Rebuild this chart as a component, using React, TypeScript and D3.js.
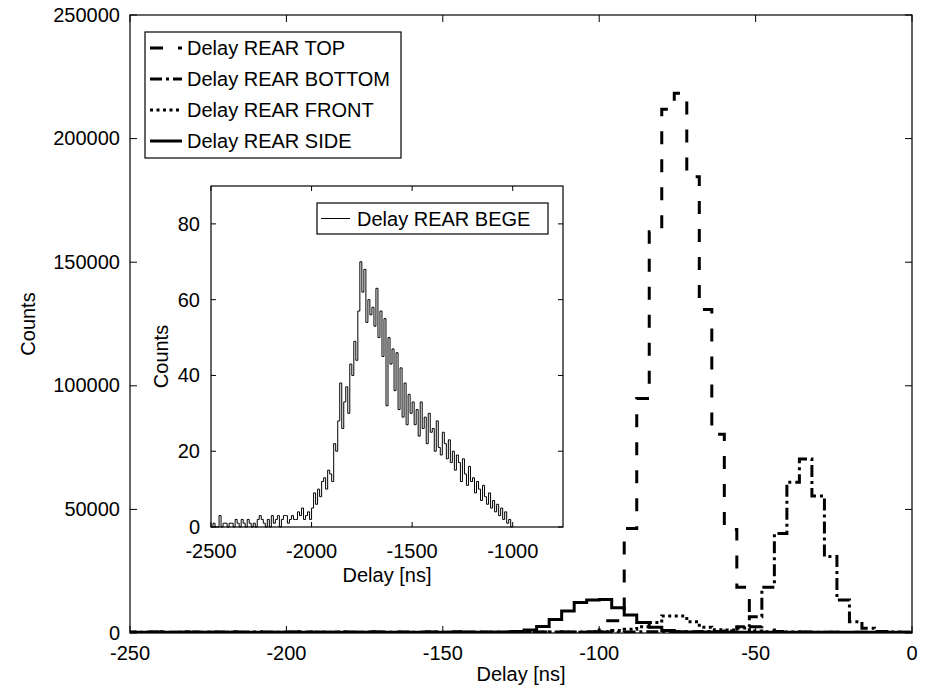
import React from "react";
import * as d3 from "d3";

// ---------- data ----------
const BIN_START = -252; // ns, left edge of first 4 ns bin
const BIN_WIDTH = 4;

// values in thousands of counts, one per 4 ns bin from -252 ns to 0 ns
const topCounts = [
  0.3, 0.4, 0.3, 0.5, 0.3, 0.4, 0.3, 0.3, 0.5, 0.3, 0.4, 0.3, 0.3, 0.4, 0.5, 0.3,
  0.3, 0.4, 0.3, 0.5, 0.3, 0.4, 0.3, 0.3, 0.4, 0.3, 0.5, 0.3, 0.4, 0.3, 0.4, 0.3,
  0.5, 0.4, 0.3, 0.4, 0.4, 0.5, 5.0, 5.0, 42.3, 94.9, 162.3, 211.9, 218.3, 184.6,
  130.9, 80.4, 41.9, 18.5, 2.5, 2.8, 0.6, 0.5, 0.4, 0.4, 0.3, 0.3, 0.3, 0.3, 0.2,
  0.2, 0.2,
];
const bottomCounts = [
  0.3, 0.3, 0.4, 0.3, 0.3, 0.4, 0.3, 0.4, 0.3, 0.3, 0.4, 0.3, 0.3, 0.3, 0.4, 0.3,
  0.3, 0.4, 0.3, 0.3, 0.4, 0.3, 0.3, 0.3, 0.4, 0.3, 0.3, 0.4, 0.3, 0.3, 0.3, 0.4,
  0.3, 0.3, 0.4, 0.3, 0.3, 0.4, 0.4, 0.3, 0.4, 0.5, 0.5, 0.4, 0.5, 0.5, 0.6, 0.6,
  0.8, 2.5, 6.6, 18.5, 40.3, 61.0, 70.4, 55.4, 30.9, 13.3, 4.6, 1.9, 0.6, 0.4,
  0.3,
];
const frontCounts = [
  0.2, 0.2, 0.3, 0.2, 0.2, 0.3, 0.2, 0.2, 0.3, 0.2, 0.2, 0.2, 0.3, 0.2, 0.2, 0.3,
  0.2, 0.2, 0.2, 0.3, 0.2, 0.2, 0.3, 0.2, 0.2, 0.2, 0.3, 0.2, 0.2, 0.3, 0.2, 0.3,
  0.3, 0.3, 0.3, 0.4, 0.4, 0.4, 0.5, 1.0, 1.5, 2.5, 4.2, 6.9, 6.9, 4.6, 2.3, 1.3,
  1.2, 2.0, 0.8, 0.5, 0.4, 0.4, 0.3, 0.3, 0.3, 0.2, 0.2, 0.2, 0.2, 0.2, 0.2,
];
const sideCounts = [
  0.3, 0.3, 0.3, 0.3, 0.3, 0.3, 0.3, 0.3, 0.3, 0.3, 0.3, 0.3, 0.3, 0.3, 0.3, 0.3,
  0.3, 0.3, 0.3, 0.3, 0.3, 0.3, 0.3, 0.3, 0.3, 0.3, 0.3, 0.3, 0.3, 0.3, 0.4, 0.6,
  1.2, 2.6, 5.5, 8.9, 12.3, 13.3, 13.6, 10.2, 7.3, 4.2, 2.3, 1.0, 0.5, 0.4, 0.4,
  0.3, 0.3, 0.3, 0.3, 0.3, 0.3, 0.3, 0.3, 0.3, 0.3, 0.3, 0.3, 0.3, 0.3, 0.3, 0.3,
];

const mainXTicks = [-250, -200, -150, -100, -50, 0];
const mainYTicks = [0, 50000, 100000, 150000, 200000, 250000];

const legendLabels = [
  "Delay REAR TOP",
  "Delay REAR BOTTOM",
  "Delay REAR FRONT",
  "Delay REAR SIDE",
];

// inset: BEGE detector, 10 ns bins starting at -2500 ns
const BEGE_START = -2500;
const BEGE_WIDTH = 10;
const begeCounts = [
  0, 1, 0, 0, 3, 0, 1, 1, 0, 1,
  1, 0, 2, 1, 0, 2, 1, 0, 2, 1,
  0, 1, 0, 2, 3, 2, 1, 0, 2, 0,
  3, 1, 2, 3, 0, 2, 3, 3, 1, 2,
  3, 2, 2, 4, 3, 5, 2, 3, 4, 2,
  5, 9, 6, 10, 8, 12, 13, 10, 15, 14,
  12, 22, 20, 28, 38, 26, 33, 37, 30, 43,
  40, 49, 44, 57, 70, 62, 68, 54, 60, 56,
  58, 53, 63, 50, 57, 45, 55, 32, 50, 43,
  47, 36, 46, 31, 42, 29, 38, 27, 35, 30,
  33, 27, 31, 24, 33, 26, 29, 22, 30, 25,
  26, 20, 28, 21, 19, 25, 22, 18, 23, 17,
  20, 15, 19, 17, 12, 18, 14, 11, 16, 12,
  13, 9, 12, 10, 7, 11, 8, 6, 9, 5,
  7, 4, 6, 3, 5, 2, 4, 1, 2, 0,
];
const insetXTicks = [-2500, -2000, -1500, -1000];
const insetYTicks = [0, 20, 40, 60, 80];

// ---------- layout ----------
const W = 927;
const H = 699;
const M = { left: 130, right: 912, top: 15, bottom: 633 };
const I = { left: 211, right: 563, top: 186, bottom: 527 };
const FONT = "'Liberation Sans', Arial, Helvetica, sans-serif";
const FS = 20;

function stepPath(
  start: number,
  width: number,
  values: number[],
  xs: d3.ScaleLinear<number, number>,
  ys: d3.ScaleLinear<number, number>,
  mult: number
) {
  const pts: [number, number][] = values.map((v, i) => [start + i * width, v * mult]);
  pts.push([start + values.length * width, values[values.length - 1] * mult]);
  return d3
    .line<[number, number]>()
    .x((d) => xs(d[0]))
    .y((d) => ys(d[1]))
    .curve(d3.curveStepAfter)(pts) as string;
}

export default function App() {
  const x = d3.scaleLinear().domain([-250, 0]).range([M.left, M.right]);
  const y = d3.scaleLinear().domain([0, 250000]).range([M.bottom, M.top]);
  const xi = d3.scaleLinear().domain([-2500, -750]).range([I.left, I.right]);
  const yi = d3.scaleLinear().domain([0, 90]).range([I.bottom, I.top]);

  const series = [
    { values: topCounts, dash: "13,15", width: 3 },
    { values: bottomCounts, dash: "12,4,3,4", width: 3 },
    { values: frontCounts, dash: "3,3.5", width: 3 },
    { values: sideCounts, dash: "none", width: 3 },
  ];

  const tick = 7;
  const itick = 5;
  const legX = 145;
  const legY = 32;
  const legW = 256;
  const legH = 126;
  const rowGap = 31;

  return (
    <div style={{ position: "absolute", left: 0, top: 0 }}>
      <svg width={W} height={H} style={{ display: "block", background: "#fff" }} fontFamily={FONT}>
        <defs>
          <clipPath id="mainClip">
            <rect x={M.left} y={M.top} width={M.right - M.left} height={M.bottom - M.top} />
          </clipPath>
        </defs>
        <rect x={0} y={0} width={W} height={H} fill="#fff" />

        {/* main series */}
        <g clipPath="url(#mainClip)">
          {series.map((s, k) => (
            <path
              key={k}
              d={stepPath(BIN_START, BIN_WIDTH, s.values, x, y, 1000)}
              fill="none"
              stroke="#000"
              strokeWidth={s.width}
              strokeDasharray={s.dash}
            />
          ))}
        </g>

        {/* main axes box */}
        <rect
          x={M.left}
          y={M.top}
          width={M.right - M.left}
          height={M.bottom - M.top}
          fill="none"
          stroke="#000"
          strokeWidth={1.2}
        />
        {mainXTicks.map((t) => (
          <g key={"mx" + t}>
            <line x1={x(t)} x2={x(t)} y1={M.bottom} y2={M.bottom - tick} stroke="#000" />
            <line x1={x(t)} x2={x(t)} y1={M.top} y2={M.top + tick} stroke="#000" />
            <text x={x(t)} y={660} textAnchor="middle" fontSize={FS} fill="#000">
              {t}
            </text>
          </g>
        ))}
        {mainYTicks.map((t) => (
          <g key={"my" + t}>
            <line x1={M.left} x2={M.left + tick} y1={y(t)} y2={y(t)} stroke="#000" />
            <line x1={M.right} x2={M.right - tick} y1={y(t)} y2={y(t)} stroke="#000" />
            <text x={120} y={y(t)} dy="0.33em" textAnchor="end" fontSize={FS} fill="#000">
              {t}
            </text>
          </g>
        ))}
        <text x={(M.left + M.right) / 2} y={681} textAnchor="middle" fontSize={FS} fill="#000">
          Delay [ns]
        </text>
        <text
          transform={`translate(35,${(M.top + M.bottom) / 2}) rotate(-90)`}
          textAnchor="middle"
          fontSize={FS}
          fill="#000"
        >
          Counts
        </text>

        {/* main legend */}
        <rect x={legX} y={legY} width={legW} height={legH} fill="#fff" stroke="#000" strokeWidth={1.2} />
        {legendLabels.map((lab, k) => {
          const cy = legY + 16 + k * rowGap;
          return (
            <g key={lab}>
              <line
                x1={legX + 5}
                x2={legX + 37}
                y1={cy}
                y2={cy}
                stroke="#000"
                strokeWidth={series[k].width}
                strokeDasharray={series[k].dash}
              />
              <text x={legX + 42} y={cy} dy="0.35em" fontSize={FS} fill="#000">
                {lab}
              </text>
            </g>
          );
        })}

        {/* inset */}
        <rect x={I.left} y={I.top} width={I.right - I.left} height={I.bottom - I.top} fill="#fff" />
        <path
          d={stepPath(BEGE_START, BEGE_WIDTH, begeCounts, xi, yi, 1)}
          fill="none"
          stroke="#000"
          strokeWidth={1}
        />
        <rect
          x={I.left}
          y={I.top}
          width={I.right - I.left}
          height={I.bottom - I.top}
          fill="none"
          stroke="#000"
          strokeWidth={1.2}
        />
        {insetXTicks.map((t) => (
          <g key={"ix" + t}>
            <line x1={xi(t)} x2={xi(t)} y1={I.bottom} y2={I.bottom - itick} stroke="#000" />
            <line x1={xi(t)} x2={xi(t)} y1={I.top} y2={I.top + itick} stroke="#000" />
            <text x={xi(t)} y={558} textAnchor="middle" fontSize={FS} fill="#000">
              {t}
            </text>
          </g>
        ))}
        {insetYTicks.map((t) => (
          <g key={"iy" + t}>
            <line x1={I.left} x2={I.left + itick} y1={yi(t)} y2={yi(t)} stroke="#000" />
            <line x1={I.right} x2={I.right - itick} y1={yi(t)} y2={yi(t)} stroke="#000" />
            <text x={200} y={yi(t)} dy="0.35em" textAnchor="end" fontSize={FS} fill="#000">
              {t}
            </text>
          </g>
        ))}
        <text x={(I.left + I.right) / 2} y={582} textAnchor="middle" fontSize={FS} fill="#000">
          Delay [ns]
        </text>
        <text
          transform={`translate(168,${(I.top + I.bottom) / 2}) rotate(-90)`}
          textAnchor="middle"
          fontSize={FS}
          fill="#000"
        >
          Counts
        </text>
        {/* inset legend */}
        <rect x={317} y={203} width={231} height={31} fill="#fff" stroke="#000" strokeWidth={1.2} />
        <line x1={321} x2={350} y1={218.5} y2={218.5} stroke="#000" strokeWidth={1} />
        <text x={357} y={218.5} dy="0.35em" fontSize={FS} fill="#000">
          Delay REAR BEGE
        </text>
      </svg>
    </div>
  );
}
